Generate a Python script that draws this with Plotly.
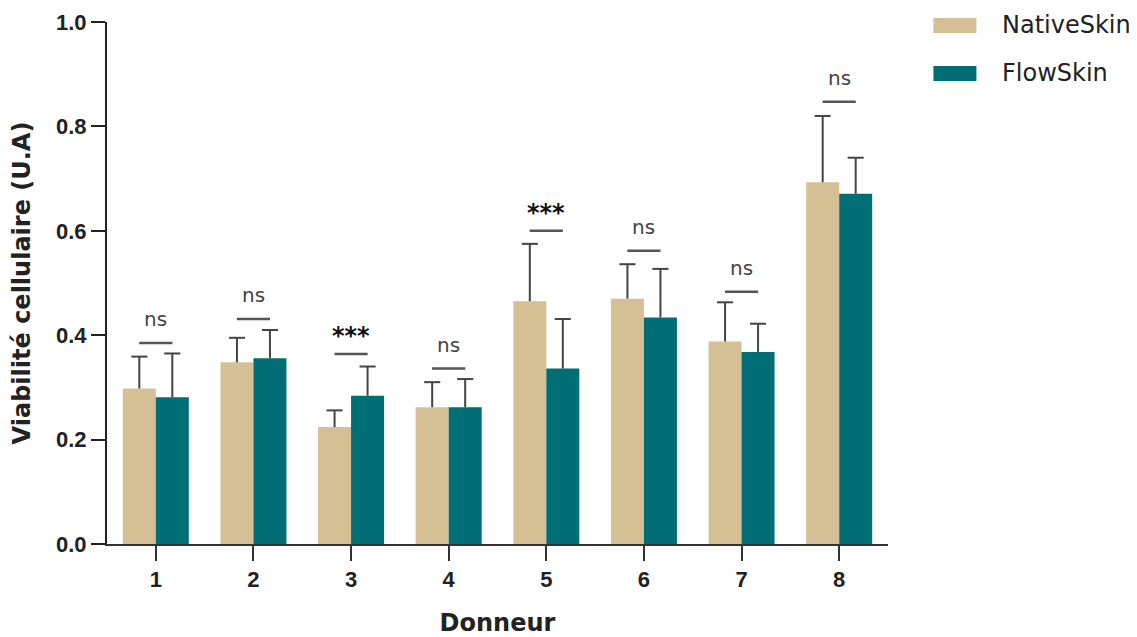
import plotly.graph_objects as go

donors = ["1", "2", "3", "4", "5", "6", "7", "8"]
native_mean = [0.298, 0.348, 0.224, 0.262, 0.465, 0.470, 0.388, 0.693]
native_err = [0.061, 0.047, 0.032, 0.048, 0.110, 0.066, 0.075, 0.127]
flow_mean = [0.281, 0.356, 0.284, 0.262, 0.336, 0.434, 0.368, 0.671]
flow_err = [0.084, 0.054, 0.056, 0.054, 0.095, 0.093, 0.054, 0.069]
sig_labels = ["ns", "ns", "***", "ns", "***", "ns", "ns", "ns"]
sig_height = [0.385, 0.431, 0.364, 0.336, 0.600, 0.562, 0.483, 0.847]
series_names = ["NativeSkin", "FlowSkin"]

TAN = "#D5C096"
TEAL = "#006E75"
ERR = "#444444"
BAR_W = 0.338
SIG_HALF = 0.17
FONT = "DejaVu Sans"
TICKFONT = "Liberation Sans"

xs = list(range(len(donors)))
fig = go.Figure()

fig.add_trace(go.Bar(x=xs, y=native_mean, width=BAR_W, offset=-BAR_W,
                     marker=dict(color=TAN, line=dict(width=0)), name=series_names[0]))
fig.add_trace(go.Bar(x=xs, y=flow_mean, width=BAR_W, offset=0,
                     marker=dict(color=TEAL, line=dict(width=0)), name=series_names[1]))

# upper-only error bars
for means, errs, sign in [(native_mean, native_err, -1), (flow_mean, flow_err, 1)]:
    lx, ly, cx, cy = [], [], [], []
    for i, (m, e) in enumerate(zip(means, errs)):
        xc = i + sign * BAR_W / 2
        lx += [xc, xc, None]
        ly += [m, m + e, None]
        cx.append(xc)
        cy.append(m + e)
    fig.add_trace(go.Scatter(x=lx, y=ly, mode="lines", line=dict(color=ERR, width=2),
                             hoverinfo="skip"))
    fig.add_trace(go.Scatter(x=cx, y=cy, mode="markers",
                             marker=dict(symbol="line-ew", size=11.5,
                                         line=dict(color=ERR, width=2)),
                             hoverinfo="skip"))

# significance lines
sx, sy = [], []
for i, h in enumerate(sig_height):
    sx += [i - SIG_HALF, i + SIG_HALF, None]
    sy += [h, h, None]
fig.add_trace(go.Scatter(x=sx, y=sy, mode="lines", line=dict(color="#555555", width=2.5),
                         hoverinfo="skip"))

annotations = []
for i, (lab, h) in enumerate(zip(sig_labels, sig_height)):
    if lab == "ns":
        annotations.append(dict(x=i, y=h, xref="x", yref="y", text=lab, showarrow=False,
                                yanchor="middle", yshift=24,
                                font=dict(family=FONT, size=20, color="#444444")))
    else:
        annotations.append(dict(x=i, y=h, xref="x", yref="y", text=lab, showarrow=False,
                                yanchor="middle", yshift=18,
                                font=dict(family=FONT, size=24, color="#111111", weight="bold")))

# manual legend
sw_x0, sw_x1 = 1.0582, 1.1132
legend_rows = [(series_names[0], TAN, 1.0077, 0.979, 0.9943),
               (series_names[1], TEAL, 0.9158, 0.8871, 0.9024)]
shapes = []
for name, col, y0, y1, yt in legend_rows:
    shapes.append(dict(type="rect", xref="paper", yref="paper", x0=sw_x0, x1=sw_x1,
                       y0=y0, y1=y1, fillcolor=col, line=dict(width=0)))
    annotations.append(dict(x=1.144, y=yt, xref="paper", yref="paper", text=name,
                            showarrow=False, xanchor="left", yanchor="middle",
                            font=dict(family=FONT, size=24, color="#222222")))

fig.update_layout(
    width=1129, height=629,
    margin=dict(l=99, r=248.5, t=14, b=92.5),
    plot_bgcolor="white", paper_bgcolor="white",
    showlegend=False, barmode="overlay",
    shapes=shapes, annotations=annotations,
    xaxis=dict(range=[-0.5, 7.5], tickvals=xs, ticktext=donors,
               showgrid=False, zeroline=False, showline=True, linecolor="#333333",
               linewidth=2, ticks="outside", ticklen=15, tickwidth=2, tickcolor="#333333",
               tickfont=dict(family=TICKFONT, size=22, color="#222222", weight="bold"),
               title=dict(text="Donneur", standoff=23,
                          font=dict(family=FONT, size=24, color="#222222", weight="bold")),
               automargin=False),
    yaxis=dict(range=[0, 1.0], tickvals=[0, 0.2, 0.4, 0.6, 0.8, 1.0], tickformat=".1f",
               showgrid=False, zeroline=False, showline=True, linecolor="#222222",
               linewidth=2, ticks="outside", ticklen=14, tickwidth=2, tickcolor="#222222",
               tickfont=dict(family=TICKFONT, size=22, color="#222222", weight="bold"),
               title=dict(text="Viabilité cellulaire (U.A)", standoff=22,
                          font=dict(family=FONT, size=24, color="#222222", weight="bold")),
               automargin=False),
)

fig.write_html("out.html")
